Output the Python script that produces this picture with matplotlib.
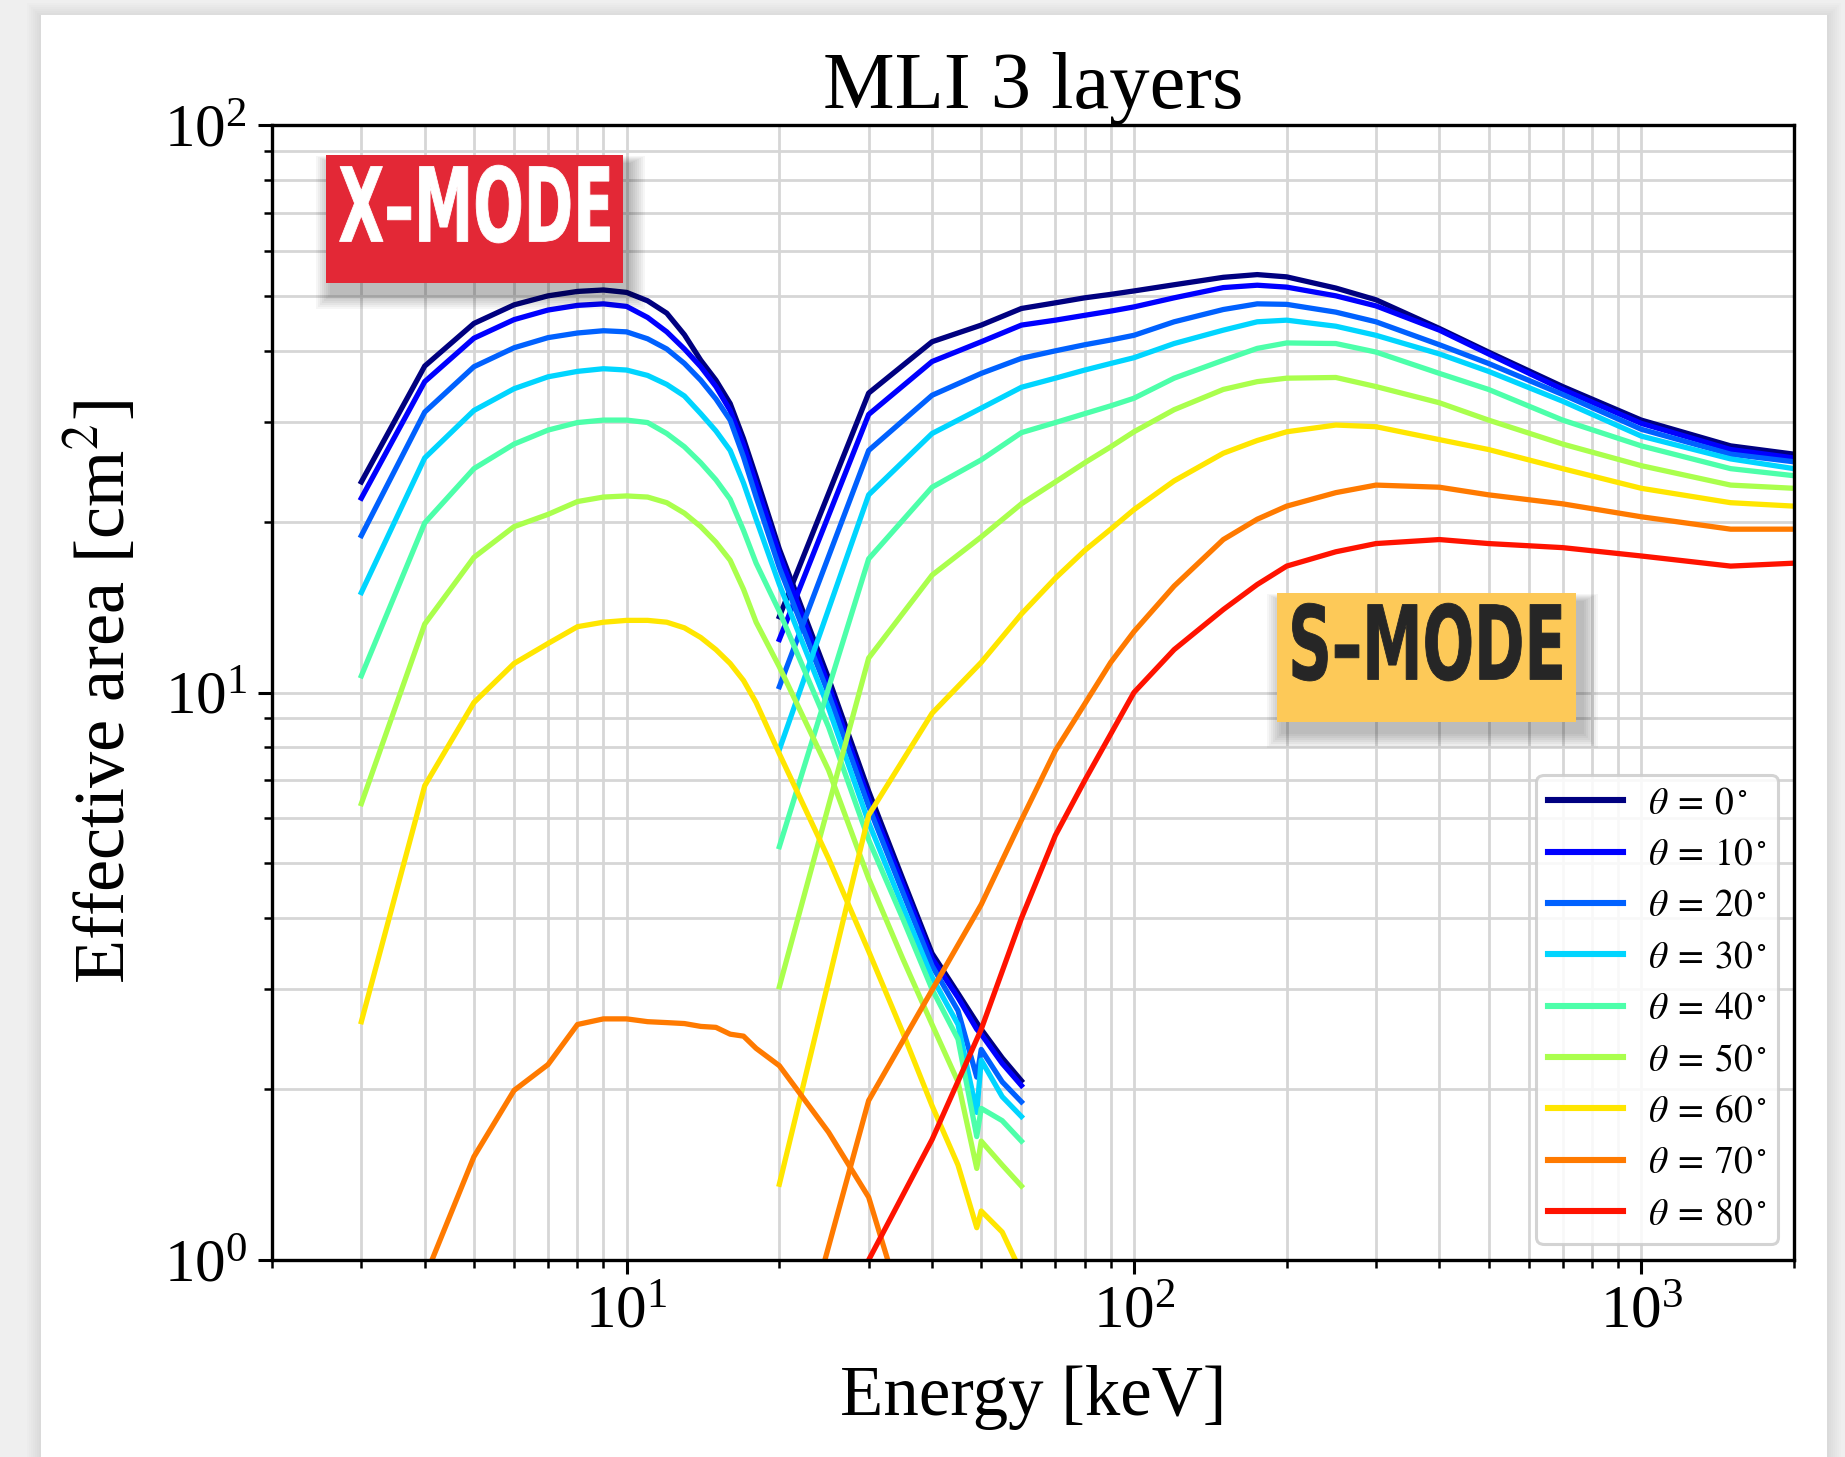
import numpy as np
import matplotlib
matplotlib.use("Agg")
import matplotlib.pyplot as plt
import matplotlib.transforms as mtransforms
from matplotlib.patches import Rectangle, PathPatch
from matplotlib.textpath import TextPath
from matplotlib.font_manager import FontProperties

plt.rcParams['font.family'] = ['Liberation Serif', 'DejaVu Serif']
plt.rcParams['mathtext.fontset'] = 'stix'

# angles of incidence
angles = [0, 10, 20, 30, 40, 50, 60, 70, 80]

# X-mode effective area [cm2] (theta = 0..70, theta = 80 is below the plot)
x_energy = [3, 4, 5, 6, 7, 8, 9, 10, 11, 12, 13, 14, 15, 16, 17, 18, 20, 25, 30, 35, 40, 45, 49, 50, 55, 60]
x_mode = [
    [23.5, 37.6, 44.7, 48.2, 50.0, 50.9, 51.2, 50.7, 49.0, 46.6, 42.7, 38.5, 35.5, 32.3, 28.0, 24.0, 17.9, 10.6, 6.7, 4.7, 3.47, 2.95, 2.62, 2.55, 2.27, 2.07],
    [22.0, 35.3, 42.1, 45.4, 47.2, 48.1, 48.4, 47.9, 45.8, 43.2, 40.3, 37.5, 34.6, 31.4, 27.3, 23.3, 17.5, 10.3, 6.5, 4.6, 3.4, 2.9, 2.55, 2.5, 2.22, 2.03],
    [18.9, 31.2, 37.5, 40.5, 42.2, 43.0, 43.4, 43.2, 42.0, 40.3, 38.0, 35.5, 32.9, 30.2, 26.0, 22.1, 16.6, 9.94, 6.3, 4.45, 3.3, 2.75, 2.1, 2.35, 2.06, 1.9],
    [15.0, 25.9, 31.4, 34.3, 36.0, 36.8, 37.2, 37.0, 36.2, 34.9, 33.3, 31.0, 28.9, 26.7, 23.4, 20.2, 15.5, 9.4, 5.9, 4.2, 3.15, 2.6, 1.82, 2.25, 1.94, 1.79],
    [10.7, 19.9, 24.8, 27.4, 29.0, 29.9, 30.2, 30.2, 29.9, 28.6, 27.1, 25.4, 23.7, 21.9, 19.3, 16.9, 13.9, 8.7, 5.5, 4.0, 3.0, 2.45, 1.65, 1.85, 1.76, 1.62],
    [6.37, 13.2, 17.3, 19.6, 20.6, 21.7, 22.1, 22.2, 22.1, 21.6, 20.7, 19.6, 18.4, 17.1, 15.2, 13.3, 11.1, 7.3, 4.7, 3.4, 2.6, 2.06, 1.45, 1.62, 1.47, 1.35],
    [2.63, 6.85, 9.6, 11.25, 12.2, 13.06, 13.3, 13.4, 13.4, 13.3, 13.0, 12.5, 11.9, 11.25, 10.5, 9.6, 7.8, 5.1, 3.5, 2.52, 1.87, 1.47, 1.14, 1.22, 1.12, 0.95],
    [0.45, 0.93, 1.52, 1.99, 2.21, 2.60, 2.66, 2.66, 2.63, 2.62, 2.61, 2.58, 2.57, 2.50, 2.48, 2.36, 2.2, 1.68, 1.29, 0.82, 0.6, 0.45, 0.36, 0.37, 0.32, 0.28],
]

# S-mode effective area [cm2]
s_energy = [20, 30, 40, 50, 60, 70, 80, 90, 100, 120, 150, 175, 200, 250, 300, 400, 500, 700, 1000, 1500, 2000]
s_mode = [
    [13.6, 33.7, 41.5, 44.4, 47.5, 48.6, 49.6, 50.3, 51.0, 52.3, 53.9, 54.5, 54.0, 51.6, 49.2, 43.8, 39.8, 34.6, 30.2, 27.2, 26.3],
    [12.4, 30.9, 38.3, 41.5, 44.4, 45.3, 46.2, 47.0, 47.8, 49.6, 51.7, 52.2, 51.8, 50.0, 48.0, 43.5, 39.5, 34.2, 29.8, 26.8, 25.9],
    [10.24, 26.7, 33.4, 36.5, 38.8, 40.0, 41.0, 41.8, 42.6, 45.0, 47.3, 48.4, 48.3, 46.8, 45.0, 41.0, 38.0, 33.5, 29.1, 26.3, 25.5],
    [7.93, 22.3, 28.6, 31.7, 34.5, 35.8, 37.0, 38.0, 38.9, 41.2, 43.5, 45.0, 45.3, 44.2, 42.6, 39.5, 36.8, 32.6, 28.3, 25.8, 24.8],
    [5.35, 17.2, 23.0, 25.7, 28.7, 29.9, 31.0, 32.0, 33.0, 35.8, 38.5, 40.4, 41.3, 41.2, 39.8, 36.5, 34.2, 30.2, 27.2, 24.8, 24.1],
    [3.03, 11.5, 16.1, 18.8, 21.5, 23.5, 25.4, 27.1, 28.8, 31.5, 34.2, 35.3, 35.8, 35.9, 34.6, 32.4, 30.2, 27.4, 25.1, 23.2, 22.9],
    [1.36, 6.08, 9.19, 11.3, 13.75, 15.9, 17.8, 19.4, 21.0, 23.6, 26.4, 27.8, 28.8, 29.6, 29.4, 27.9, 26.8, 24.8, 22.9, 21.6, 21.3],
    [0.51, 1.91, 2.99, 4.23, 5.96, 7.9, 9.55, 11.3, 12.8, 15.4, 18.6, 20.2, 21.3, 22.5, 23.2, 23.0, 22.3, 21.5, 20.4, 19.4, 19.4],
    [0.2, 1.0, 1.63, 2.55, 4.0, 5.6, 7.0, 8.45, 10.0, 11.9, 14.0, 15.5, 16.7, 17.7, 18.3, 18.6, 18.3, 18.0, 17.4, 16.7, 16.9],
]

W, H = 1845, 1457
fig = plt.figure(figsize=(W / 100, H / 100), dpi=100)
fig.patch.set_facecolor('#efefef')


def px_rect(x0, y0, x1, y1, **kw):
    # rectangle given in pixels, origin at the top left
    return Rectangle((x0 / W, 1 - y1 / H), (x1 - x0) / W, (y1 - y0) / H,
                     transform=fig.transFigure, **kw)


# white card with a soft shadow
for k in range(8):
    fig.add_artist(px_rect(41 - 2 * k, 15 - 2 * k + 2, 1827 + 2 * k, 1500,
                           facecolor='black', edgecolor='none', alpha=0.012, zorder=-12))
fig.add_artist(px_rect(41, 15, 1827, 1500, facecolor='white', edgecolor='none', zorder=-11))

ax = fig.add_axes([272 / W, 1 - 1260 / H, (1794 - 272) / W, (1260 - 125) / H])
ax.set_facecolor('white')

colors = plt.cm.jet(np.arange(len(angles)) / len(angles))
for i, th in enumerate(angles):
    if i < len(x_mode):
        ax.plot(x_energy, x_mode[i], color=colors[i], lw=3.8)
    ax.plot(s_energy, s_mode[i], color=colors[i], lw=3.8,
            label=r'$\theta\:=\:%d^\circ$' % th)

ax.set_xscale('log')
ax.set_yscale('log')
ax.set_xlim(2, 2000)
ax.set_ylim(1, 100)
ax.set_axisbelow(True)
ax.grid(True, which='both', color='#d6d6d6', lw=2.0)

for sp in ax.spines.values():
    sp.set_linewidth(2.4)
ax.tick_params(which='major', direction='out', length=10, width=2.2, labelsize=44, pad=8)
ax.tick_params(which='minor', direction='out', length=6, width=1.8)

ax.set_title('MLI 3 layers', fontsize=58, pad=11)
ax.set_xlabel('Energy [keV]', fontsize=51, labelpad=18)
ax.set_ylabel('Effective area [cm$^2$]', fontsize=52, labelpad=18)

leg = ax.legend(loc='lower right', fontsize=27, handlelength=2.0, handletextpad=0.65,
                labelspacing=0.45, borderpad=0.32, borderaxespad=0.42,
                framealpha=0.85, fancybox=True)
leg.get_frame().set_linewidth(2.2)
leg.get_frame().set_edgecolor('#cccccc')
for h in leg.get_lines():
    h.set_linewidth(4.4)


def mode_label(text, box, txt_x0, txt_x1, cap_top, baseline, face, ink):
    x0, y0, x1, y1 = box
    # drop shadow
    for k in range(8):
        fig.add_artist(px_rect(x0 + 4 - k * 2, y0 + 8 - k, x1 + 8 + k * 2, y1 + 12 + k * 2,
                               facecolor='black', edgecolor='none', alpha=0.035, zorder=4))
    fig.add_artist(px_rect(x0, y0, x1, y1, facecolor=face, edgecolor='none', zorder=5))
    fp = FontProperties(family='DejaVu Sans', weight='bold')
    tp = TextPath((0, 0), text, size=100, prop=fp)
    cap = TextPath((0, 0), 'E', size=100, prop=fp).get_extents().height
    ext = tp.get_extents()
    sx = (txt_x1 - txt_x0 - 1) / ext.width
    sy = (baseline - cap_top - 1) / cap
    tr = (mtransforms.Affine2D().translate(-ext.x0, 0).scale(sx, sy)
          .translate(txt_x0 + 0.5, H - baseline + 0.5).scale(1 / W, 1 / H) + fig.transFigure)
    fig.add_artist(PathPatch(tp, transform=tr, facecolor=ink, edgecolor=ink,
                             lw=0.6, zorder=6))


mode_label('X\u2013MODE', (326, 155, 623, 283), 339, 610, 166, 242, '#e32836', 'white')
mode_label('S\u2013MODE', (1277, 593, 1576, 722), 1292, 1562, 604, 680, '#fdc958', '#262626')

fig.savefig('out.png', dpi=100, facecolor=fig.get_facecolor())
